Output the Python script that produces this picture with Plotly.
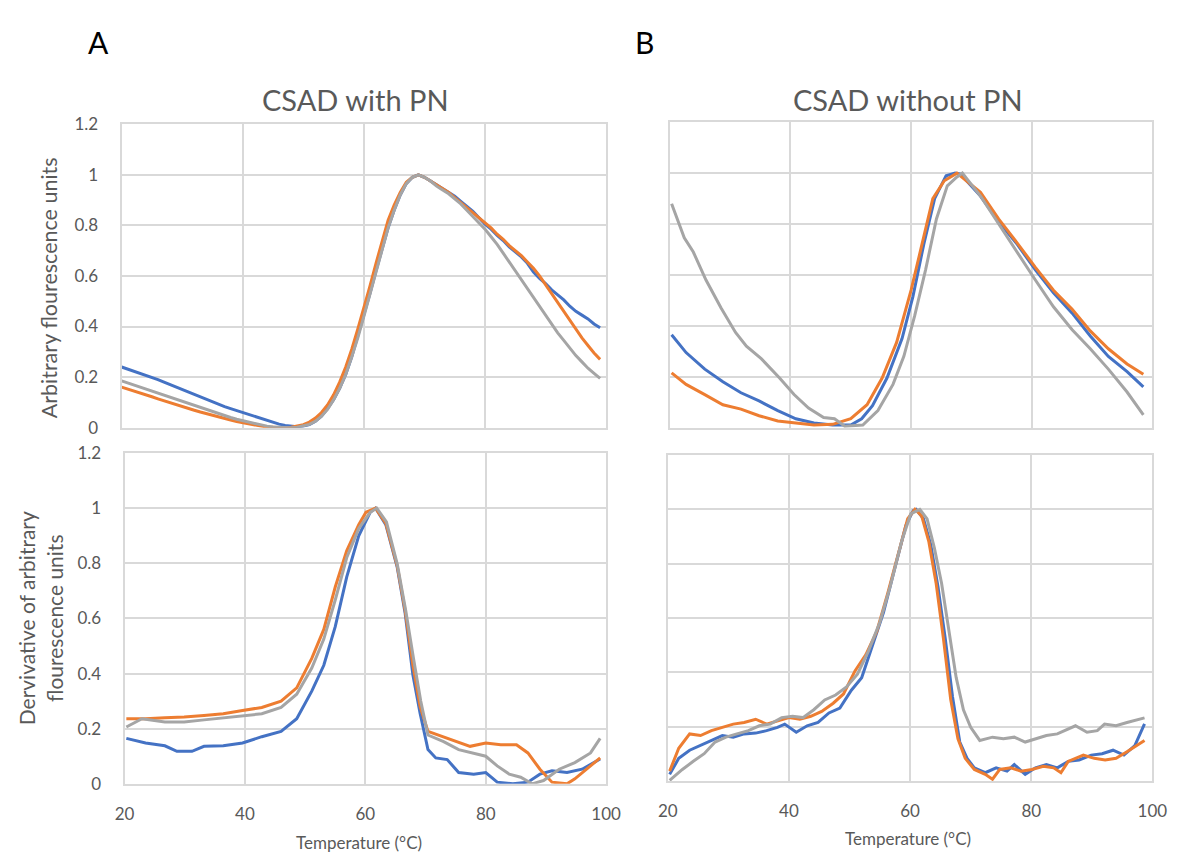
import plotly.graph_objects as go

# ---------------- DATA ----------------
# Panel A (CSAD with PN) - fluorescence
temps_a_fl = [20, 21, 22, 23, 24, 25, 26, 27, 28, 29, 30, 31, 32, 33, 34, 35, 36, 37, 38, 39,
              40, 41, 42, 43, 44, 45, 46, 47, 48, 49, 50, 51, 52, 53, 54, 55, 56, 57, 58, 59,
              60, 61, 62, 63, 64, 65, 66, 67, 68, 69, 70, 71, 72, 73, 74, 75, 76, 77, 78, 79,
              80, 81, 82, 83, 84, 85, 86, 87, 88, 89, 90, 91, 92, 93, 94, 95, 96, 97, 98, 99]
a_fl_blue = [0.24, 0.232, 0.224, 0.215, 0.207, 0.198, 0.19, 0.18, 0.17, 0.16,
             0.15, 0.14, 0.13, 0.12, 0.11, 0.10, 0.092, 0.083, 0.075, 0.067,
             0.06, 0.052, 0.044, 0.036, 0.028, 0.021, 0.014, 0.009, 0.005, 0.004,
             0.006, 0.012, 0.025, 0.045, 0.075, 0.11, 0.155, 0.21, 0.28, 0.36,
             0.44, 0.53, 0.62, 0.71, 0.79, 0.86, 0.92, 0.965, 0.99, 1.0,
             0.99, 0.975, 0.96, 0.945, 0.93, 0.915, 0.895, 0.875, 0.855, 0.83,
             0.805, 0.785, 0.76, 0.74, 0.715, 0.695, 0.675, 0.65, 0.615, 0.59,
             0.57, 0.545, 0.525, 0.505, 0.48, 0.46, 0.445, 0.43, 0.41, 0.395]
a_fl_orange = [0.16, 0.153, 0.145, 0.137, 0.13, 0.122, 0.114, 0.106, 0.098, 0.09,
               0.083, 0.076, 0.069, 0.062, 0.055, 0.048, 0.042, 0.036, 0.03, 0.024,
               0.019, 0.014, 0.01, 0.006, 0.003, 0.001, 0.0, 0.0, 0.002, 0.006,
               0.012, 0.022, 0.038, 0.06, 0.09, 0.13, 0.18, 0.24, 0.31, 0.39,
               0.47, 0.56, 0.65, 0.74, 0.82, 0.88, 0.93, 0.97, 0.99, 1.0,
               0.99, 0.975, 0.96, 0.945, 0.93, 0.91, 0.89, 0.87, 0.85, 0.83,
               0.81, 0.79, 0.765, 0.745, 0.72, 0.70, 0.68, 0.655, 0.63, 0.60,
               0.565, 0.53, 0.49, 0.455, 0.42, 0.385, 0.355, 0.325, 0.295, 0.27]
a_fl_gray = [0.185, 0.177, 0.169, 0.16, 0.152, 0.143, 0.135, 0.126, 0.118, 0.11,
             0.102, 0.094, 0.086, 0.078, 0.07, 0.062, 0.055, 0.047, 0.04, 0.033,
             0.027, 0.021, 0.015, 0.01, 0.006, 0.003, 0.001, 0.0, 0.0, 0.002,
             0.006, 0.013, 0.025, 0.045, 0.072, 0.11, 0.155, 0.21, 0.28, 0.355,
             0.44, 0.53, 0.62, 0.71, 0.79, 0.86, 0.92, 0.965, 0.99, 1.0,
             0.99, 0.975, 0.955, 0.94, 0.925, 0.905, 0.885, 0.86, 0.835, 0.81,
             0.785, 0.755, 0.725, 0.69, 0.655, 0.62, 0.585, 0.55, 0.51, 0.475,
             0.44, 0.405, 0.375, 0.345, 0.315, 0.285, 0.26, 0.235, 0.215, 0.195]

# Panel B (CSAD without PN) - fluorescence
b_fl_blue_t = [20.3, 22.7, 25.8, 28.8, 31.8, 34.8, 37.9, 40.9, 43.9, 47.0, 50.0, 51.8, 53.6,
               56.0, 58.5, 60.3, 62.1, 63.9, 65.8, 67.3, 68.2, 71.5, 74.5, 77.6, 80.6, 83.6,
               86.7, 89.7, 92.7, 95.8, 98.5]
b_fl_blue = [0.365, 0.295, 0.23, 0.18, 0.137, 0.105, 0.067, 0.035, 0.018, 0.01, 0.01, 0.035,
             0.086, 0.195, 0.35, 0.515, 0.72, 0.90, 0.99, 1.0, 0.996, 0.91, 0.81, 0.72, 0.62,
             0.53, 0.45, 0.36, 0.28, 0.22, 0.16]
b_fl_orange_t = [20.3, 22.7, 25.8, 28.8, 31.8, 34.8, 37.9, 40.9, 43.9, 47.0, 50.0, 52.7, 55.2,
                 57.6, 60.0, 61.8, 63.6, 65.5, 67.6, 71.5, 74.5, 77.6, 80.6, 83.6, 86.7, 89.7,
                 92.7, 95.8, 98.5]
b_fl_orange = [0.215, 0.17, 0.13, 0.09, 0.073, 0.047, 0.026, 0.018, 0.01, 0.013, 0.035, 0.09,
               0.195, 0.335, 0.54, 0.72, 0.90, 0.97, 1.0, 0.925, 0.82, 0.725, 0.63, 0.54, 0.465,
               0.38, 0.31, 0.25, 0.21]
b_fl_gray_t = [20.3, 22.4, 23.9, 26.0, 28.5, 30.9, 32.7, 35.2, 38.2, 40.6, 43.0, 45.5, 47.3,
               49.0, 52.0, 54.5, 57.0, 58.8, 60.6, 62.4, 64.2, 66.0, 67.6, 68.5, 71.5, 74.5,
               77.6, 80.6, 83.6, 86.7, 89.7, 92.7, 95.8, 98.5]
b_fl_gray = [0.88, 0.746, 0.69, 0.58, 0.47, 0.374, 0.32, 0.27, 0.195, 0.13, 0.077, 0.04, 0.035,
             0.006, 0.01, 0.067, 0.17, 0.28, 0.44, 0.62, 0.82, 0.95, 0.985, 1.0, 0.91, 0.80,
             0.69, 0.58, 0.475, 0.385, 0.31, 0.23, 0.14, 0.05]

# Panel A - derivative
a_dv_blue_t = [20.3, 23.5, 26.7, 28.7, 31.2, 33.2, 36.4, 39.6, 42.8, 46.0, 48.6, 51.1, 53.1,
               55.0, 56.9, 58.9, 60.8, 61.7, 63.4, 65.3, 66.6, 67.9, 69.1, 70.4, 71.7, 73.6,
               75.5, 78.0, 80.0, 81.9, 84.5, 87.0, 89.0, 91.0, 93.5, 96.0, 99.0]
a_dv_blue = [0.165, 0.148, 0.138, 0.118, 0.118, 0.136, 0.138, 0.148, 0.171, 0.19, 0.236, 0.336,
             0.43, 0.57, 0.75, 0.90, 0.985, 1.0, 0.94, 0.785, 0.62, 0.395, 0.255, 0.124, 0.094,
             0.088, 0.041, 0.035, 0.041, 0.006, 0.0, 0.006, 0.035, 0.047, 0.041, 0.053, 0.09]
a_dv_orange_t = [20.3, 23.5, 26.7, 29.9, 33.2, 36.4, 39.6, 42.8, 46.0, 48.6, 51.1, 53.1, 55.0,
                 56.9, 58.9, 60.1, 61.7, 63.4, 65.3, 66.6, 67.9, 69.1, 70.4, 73.0, 75.5, 77.4,
                 80.0, 82.5, 85.1, 87.0, 89.0, 91.0, 93.5, 94.8, 97.4, 99.0]
a_dv_orange = [0.236, 0.236, 0.24, 0.242, 0.248, 0.254, 0.266, 0.277, 0.30, 0.348, 0.455, 0.56,
               0.714, 0.845, 0.94, 0.985, 1.0, 0.945, 0.79, 0.63, 0.43, 0.28, 0.19, 0.17, 0.148,
               0.136, 0.148, 0.142, 0.142, 0.112, 0.053, 0.006, 0.0, 0.018, 0.065, 0.094]
a_dv_gray_t = [20.3, 22.9, 26.7, 29.9, 33.2, 36.4, 39.6, 42.8, 46.0, 48.6, 51.1, 53.1, 55.0,
               56.9, 58.9, 60.8, 61.9, 63.5, 65.3, 66.7, 68.0, 69.2, 70.4, 73.0, 75.5, 78.0,
               80.0, 81.9, 83.9, 85.8, 87.7, 89.6, 92.2, 94.8, 97.4, 99.0]
a_dv_gray = [0.206, 0.236, 0.224, 0.224, 0.232, 0.24, 0.248, 0.254, 0.277, 0.325, 0.42, 0.525,
             0.667, 0.82, 0.926, 0.985, 1.0, 0.95, 0.797, 0.63, 0.455, 0.30, 0.177, 0.153,
             0.124, 0.112, 0.10, 0.065, 0.035, 0.024, 0.0, 0.012, 0.053, 0.077, 0.112, 0.165]

# Panel B - derivative
b_dv_blue_t = [20.3, 21.8, 23.6, 25.4, 27.2, 29.0, 30.8, 32.6, 34.5, 36.3, 38.1, 39.3, 41.2,
               43.0, 44.8, 46.6, 48.4, 50.3, 52.0, 53.8, 55.6, 57.5, 59.3, 60.5, 61.0, 62.2,
               63.4, 64.6, 65.8, 67.0, 68.2, 69.4, 70.6, 72.4, 74.2, 76.0, 77.2, 79.0, 80.7,
               82.5, 84.3, 86.1, 87.9, 89.9, 91.7, 93.5, 95.3, 97.1, 98.7]
b_dv_blue = [0.024, 0.083, 0.113, 0.13, 0.149, 0.167, 0.161, 0.173, 0.176, 0.185, 0.197, 0.209,
             0.179, 0.203, 0.215, 0.25, 0.268, 0.334, 0.38, 0.50, 0.62, 0.785, 0.94, 0.995, 1.0,
             0.965, 0.87, 0.715, 0.524, 0.31, 0.143, 0.083, 0.048, 0.03, 0.048, 0.036, 0.06,
             0.024, 0.048, 0.06, 0.048, 0.072, 0.077, 0.095, 0.10, 0.113, 0.095, 0.13, 0.21]
b_dv_orange_t = [20.3, 21.8, 23.6, 25.4, 27.2, 29.0, 30.8, 32.6, 34.5, 36.3, 38.1, 40.0, 41.8,
                 43.6, 45.4, 47.3, 49.0, 50.9, 52.7, 54.5, 56.3, 58.1, 59.6, 60.8, 61.9, 63.1,
                 64.3, 65.5, 66.7, 67.9, 69.1, 70.6, 72.4, 73.6, 74.8, 76.6, 78.3, 80.1, 82.0,
                 83.7, 84.9, 86.1, 88.6, 90.4, 92.2, 94.0, 95.8, 98.7]
b_dv_orange = [0.036, 0.12, 0.173, 0.167, 0.185, 0.197, 0.209, 0.215, 0.227, 0.209, 0.221, 0.233,
               0.227, 0.238, 0.256, 0.286, 0.32, 0.405, 0.465, 0.55, 0.69, 0.845, 0.965, 1.0,
               0.976, 0.88, 0.727, 0.524, 0.30, 0.155, 0.083, 0.042, 0.024, 0.006, 0.042, 0.048,
               0.036, 0.042, 0.054, 0.048, 0.03, 0.072, 0.095, 0.083, 0.077, 0.083, 0.107, 0.149]
b_dv_gray_t = [20.3, 22.4, 24.2, 26.0, 27.8, 29.6, 31.4, 33.3, 35.1, 36.9, 38.8, 40.6, 42.3,
               44.1, 45.9, 47.7, 49.5, 51.3, 53.1, 55.0, 56.7, 58.6, 60.1, 61.6, 62.8, 64.0,
               65.2, 66.4, 67.6, 68.8, 70.0, 71.5, 73.6, 75.4, 77.2, 79.0, 80.7, 82.5, 84.3,
               85.5, 87.3, 89.2, 90.9, 92.1, 94.0, 95.8, 98.7]
b_dv_gray = [0.002, 0.042, 0.072, 0.10, 0.143, 0.161, 0.173, 0.185, 0.203, 0.209, 0.233, 0.238,
             0.233, 0.262, 0.298, 0.316, 0.346, 0.393, 0.477, 0.584, 0.715, 0.882, 0.983, 1.0,
             0.965, 0.858, 0.727, 0.548, 0.381, 0.262, 0.197, 0.149, 0.161, 0.155, 0.161, 0.143,
             0.155, 0.167, 0.173, 0.185, 0.203, 0.179, 0.185, 0.209, 0.203, 0.215, 0.232]

x_ticks = [20, 40, 60, 80, 100]
y_ticks = [0, 0.2, 0.4, 0.6, 0.8, 1.0, 1.2]
panel_titles = ["CSAD with PN", "CSAD without PN"]
panel_letters = ["A", "B"]
y_title_top = "Arbitrary flourescence units"
y_title_bottom = "Dervivative of arbitrary<br>flourescence units"
x_title = "Temperature (°C)"

# ---------------- STYLE ----------------
W, H = 1186, 867
BLUE, ORANGE, GRAY = "#4472C4", "#ED7D31", "#A5A5A5"
FONT = "Lato"
TXT = "#595959"
GRID = "#D9D9D9"
LW = 3


def px(x):
    return x / W


def py(y):
    return 1 - y / H


fig = go.Figure()

panels = [
    # (axis suffix, series list, x domain px, y domain px, show x labels, show y labels)
    ("", [(temps_a_fl, a_fl_blue, BLUE), (temps_a_fl, a_fl_orange, ORANGE), (temps_a_fl, a_fl_gray, GRAY)],
     (114, 609), (116, 427), False, True),
    ("2", [(b_fl_blue_t, b_fl_blue, BLUE), (b_fl_orange_t, b_fl_orange, ORANGE), (b_fl_gray_t, b_fl_gray, GRAY)],
     (674, 1167), (114, 427), False, False),
    ("3", [(a_dv_blue_t, a_dv_blue, BLUE), (a_dv_orange_t, a_dv_orange, ORANGE), (a_dv_gray_t, a_dv_gray, GRAY)],
     (117, 609), (453, 792), True, True),
    ("4", [(b_dv_blue_t, b_dv_blue, BLUE), (b_dv_orange_t, b_dv_orange, ORANGE), (b_dv_gray_t, b_dv_gray, GRAY)],
     (672, 1167), (455, 789), True, False),
]

layout = dict(
    width=W, height=H,
    margin=dict(l=0, r=0, t=0, b=0),
    paper_bgcolor="white", plot_bgcolor="white",
    showlegend=False,
    font=dict(family=FONT, color=TXT),
)

for suf, series, (x0, x1), (y0, y1), showx, showy in panels:
    for xs, ys, col in series:
        fig.add_trace(go.Scatter(x=xs, y=ys, mode="lines",
                                 line=dict(color=col, width=LW),
                                 xaxis="x" + suf, yaxis="y" + suf,
                                 hoverinfo="skip"))
    layout["xaxis" + suf] = dict(
        domain=[px(x0), px(x1)], range=[20, 100], anchor="y" + suf,
        tickvals=x_ticks, showticklabels=showx,
        showgrid=True, gridcolor=GRID, gridwidth=2,
        showline=True, linecolor=GRID, linewidth=2, mirror=True,
        zeroline=False, ticks="", ticklabelstandoff=14,
        tickfont=dict(family=FONT, size=17, color=TXT),
        fixedrange=True,
    )
    layout["yaxis" + suf] = dict(
        domain=[py(y1), py(y0)], range=[0, 1.2], anchor="x" + suf,
        tickvals=y_ticks, showticklabels=showy,
        showgrid=True, gridcolor=GRID, gridwidth=2,
        showline=True, linecolor=GRID, linewidth=2, mirror=True,
        zeroline=False, ticks="", ticklabelstandoff=18,
        tickfont=dict(family=FONT, size=17, color=TXT),
        fixedrange=True,
    )

annotations = [
    dict(text=panel_letters[0], x=px(90), y=py(32), font=dict(size=30, color="black", family=FONT)),
    dict(text=panel_letters[1], x=px(648), y=py(32), font=dict(size=30, color="black", family=FONT)),
    dict(text=panel_titles[0], x=px(352.5), y=py(91), font=dict(size=29, color=TXT, family=FONT)),
    dict(text=panel_titles[1], x=px(917), y=py(91), font=dict(size=29, color=TXT, family=FONT)),
    dict(text=y_title_top, x=px(40), y=py(284), textangle=-90, font=dict(size=21.5, color=TXT, family=FONT)),
    dict(text=y_title_bottom, x=px(31), y=py(622), textangle=-90, font=dict(size=21, color=TXT, family=FONT)),
    dict(text=x_title, x=px(357), y=py(852), font=dict(size=17, color=TXT, family=FONT)),
    dict(text=x_title, x=px(917), y=py(848), font=dict(size=17, color=TXT, family=FONT)),
]
for a in annotations:
    a.update(xref="paper", yref="paper", showarrow=False, xanchor="center", yanchor="middle")
layout["annotations"] = annotations

fig.update_layout(**layout)
fig.write_html("out.html")
